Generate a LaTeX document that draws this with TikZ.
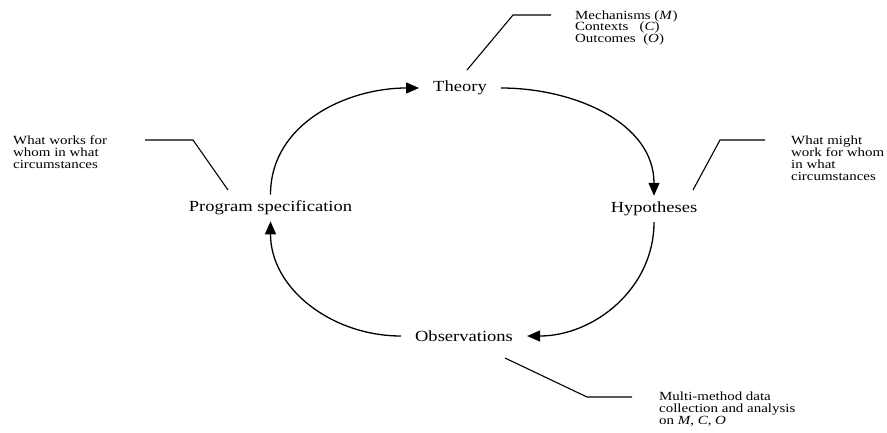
\documentclass[tikz,border=0pt]{standalone}
\usepackage{fontspec}
\setmainfont{Liberation Serif}[FakeStretch=1.2]
\usetikzlibrary{arrows.meta}
\begin{document}
\begin{tikzpicture}[x=1bp,y=1bp,
  stage/.style={font=\fontsize{15.5}{18}\selectfont, inner xsep=14bp, inner ysep=6bp},
  note/.style={font=\fontsize{12.5}{12}\selectfont, align=left, anchor=west, inner sep=0pt},
  cyclearrow/.style={line width=1.3bp, -{Triangle[length=13bp,width=11bp]}},
  leader/.style={line width=1.1bp}]
\useasboundingbox (0,0) rectangle (887,432);
% stages
\node[stage] (theory) at (460,344) {Theory};
\node[stage] (hyp) at (654,223) {Hypotheses};
\node[stage] (obs) at (464,96) {Observations};
\node[stage] (prog) at (270.5,224) {Program specification};
% cycle arrows
\draw[cyclearrow] (prog.north) to[out=90,in=180] (theory.west);
\draw[cyclearrow] (theory.east) to[out=0,in=90] (hyp.north);
\draw[cyclearrow] (hyp.south) to[out=-90,in=0] (obs.east);
\draw[cyclearrow] (obs.west) to[out=180,in=-90] (prog.south);
% notes
\node[note] (mech) at (575,404) {Mechanisms (\textit{M})\\Contexts\ \ \ (\textit{C})\\Outcomes\ \ (\textit{O})};
\node[note] (works) at (13,280) {What works for\\whom in what\\circumstances};
\node[note] (might) at (791,274) {What might\\work for whom\\in what\\circumstances};
\node[note] (multi) at (659,23) {Multi-method data\\collection and analysis\\on \textit{M}, \textit{C}, \textit{O}};
% leader lines
\coordinate (t0) at (467,362);
\coordinate (t1) at (513,417);
\coordinate (t2) at (551,417);
\draw[leader] (t0) -- (t1) -- (t2);
\coordinate (p0) at (228,242);
\coordinate (p1) at (193,292);
\coordinate (p2) at (145,292);
\draw[leader] (p0) -- (p1) -- (p2);
\coordinate (h0) at (693,242);
\coordinate (h1) at (720,292);
\coordinate (h2) at (765,292);
\draw[leader] (h0) -- (h1) -- (h2);
\coordinate (o0) at (505,74);
\coordinate (o1) at (587,35);
\coordinate (o2) at (632,35);
\draw[leader] (o0) -- (o1) -- (o2);
\end{tikzpicture}
\end{document}
